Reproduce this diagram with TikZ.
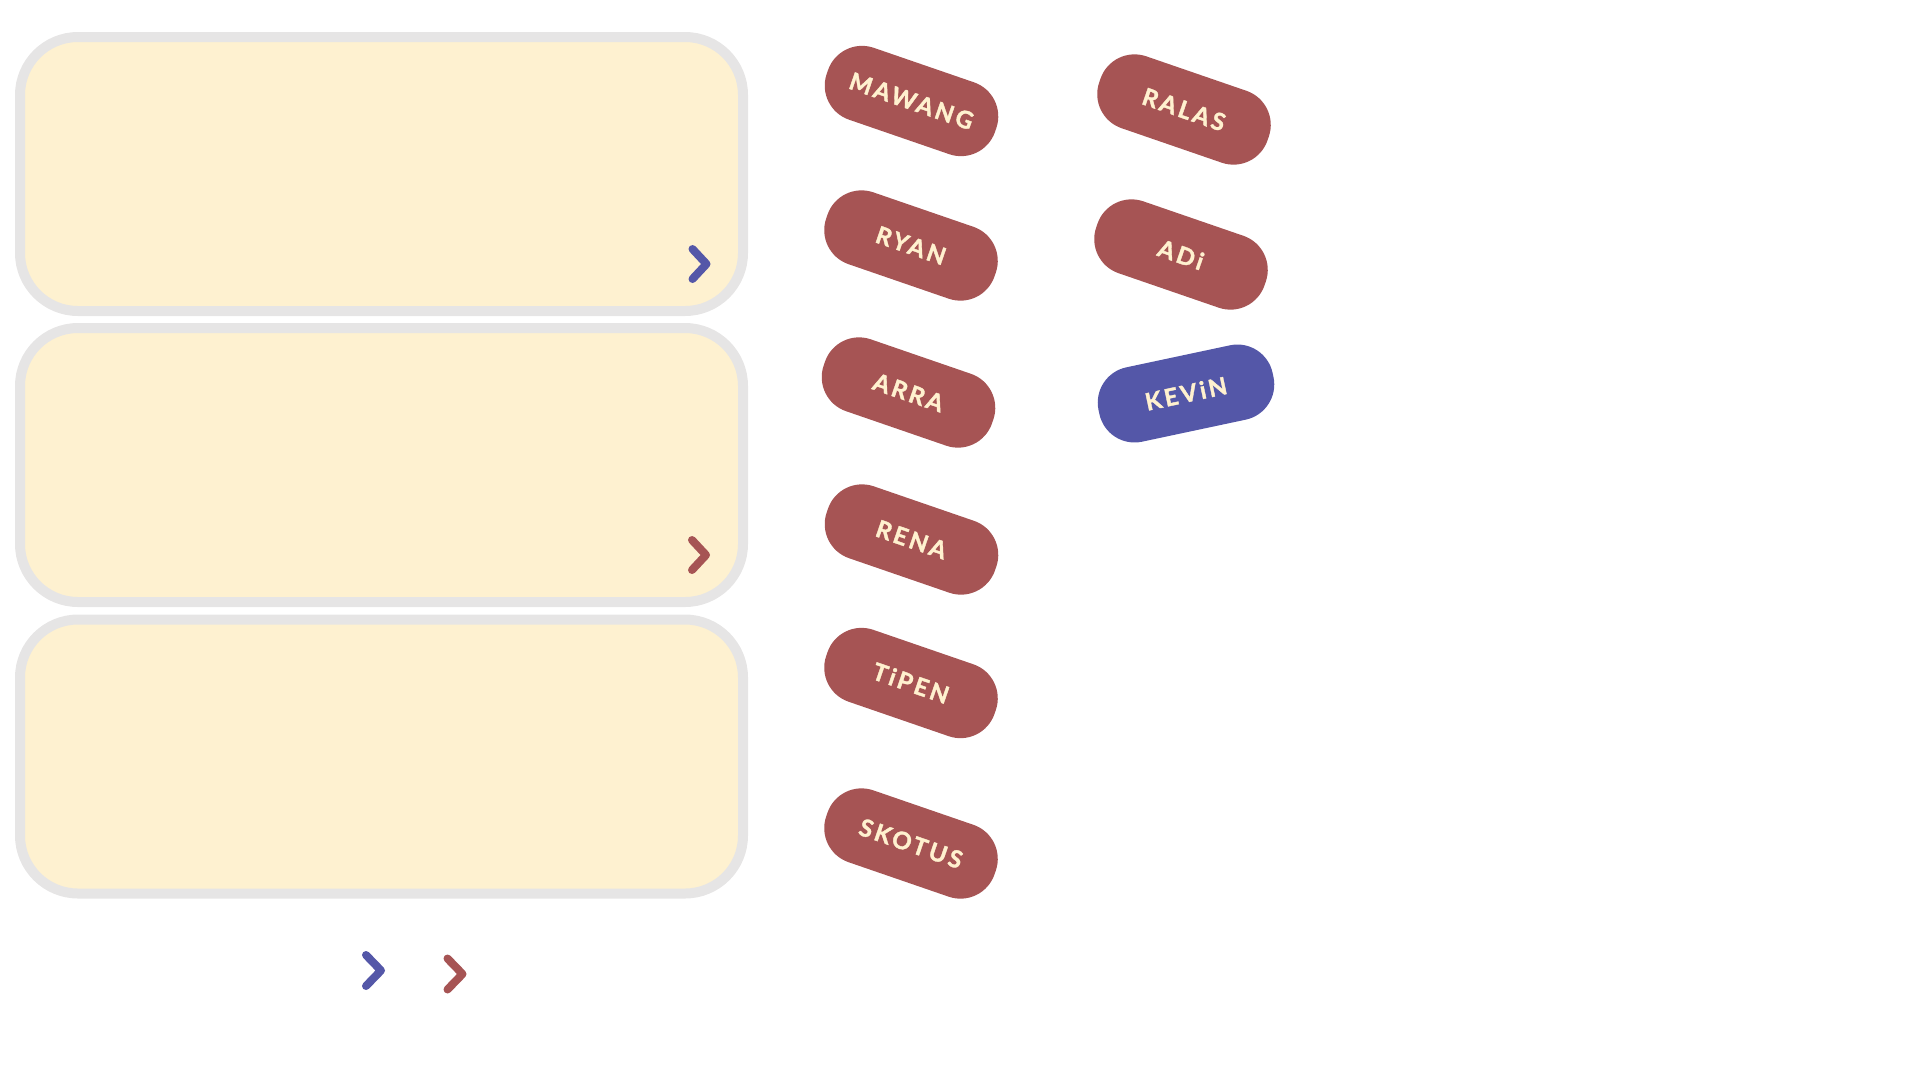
\documentclass[tikz,border=0pt]{standalone}
\usepackage{fontspec}
\newfontfamily\tagfont[LetterSpace=12, BoldFeatures={FakeBold=1.5}]{Lato}
\usetikzlibrary{positioning}
\definecolor{cred}{HTML}{A65454}
\definecolor{cblue}{HTML}{5457A8}
\definecolor{ccream}{HTML}{FFF1CF}
\definecolor{cpanel}{HTML}{FEF1D0}
\definecolor{cgrey}{HTML}{E6E5E5}
\tikzset{
  every picture/.style={line width=1.2pt},
  panel/.style={draw=cgrey, fill=cpanel, line width=10pt, rounded corners=58pt, minimum width=723pt, minimum height=274pt},
  tag/.style={fill=#1, text=ccream, rounded corners=36pt, minimum width=178pt, minimum height=76pt, font=\tagfont\bfseries\fontsize{24}{24}\selectfont},
  tag/.default=cred,
  chev/.style={draw=#1, line width=8pt, line cap=round, line join=round},
}
\begin{document}
\begin{tikzpicture}[x=1pt, y=-1pt]
  \useasboundingbox (0,0) rectangle (1920,1080);
  % the three boxes
  \node[panel] (box1) at (381.5,174) {};
  \node[panel] (box2) at (381.5,465) {};
  \node[panel] (box3) at (381.5,756.5) {};
  \draw[chev=cblue] (692.5,249) -- ++(14,15) -- ++(-14,15);
  \draw[chev=cred] (692,540) -- ++(14,15) -- ++(-14,15);
  % names, first column
  \node[tag, rotate=-19] (mawang) at (911.5,101) {MAWANG};
  \node[tag, rotate=-19] (ryan) at (911,245.5) {RYAN};
  \node[tag, rotate=-19] (arra) at (908.5,392.5) {ARRA};
  \node[tag, rotate=-19] (rena) at (911.5,539.5) {RENA};
  \node[tag, rotate=-19] (tipen) at (911,683) {TiPEN};
  \node[tag, rotate=-19] (skotus) at (911,843.5) {SKOTUS};
  % second column
  \node[tag, rotate=-19] (ralas) at (1184,109.5) {RALAS};
  \node[tag, rotate=-19] (adi) at (1181,254.5) {ADi};
  \node[tag=cblue, rotate=12] (kevin) at (1186,393.5) {KEViN};
  % bottom legend
  \draw[chev=cblue] (366,955) -- ++(15,15.5) -- ++(-15,15.5);
  \draw[chev=cred] (447.5,958.5) -- ++(15,15.5) -- ++(-15,15.5);
\end{tikzpicture}
\end{document}
